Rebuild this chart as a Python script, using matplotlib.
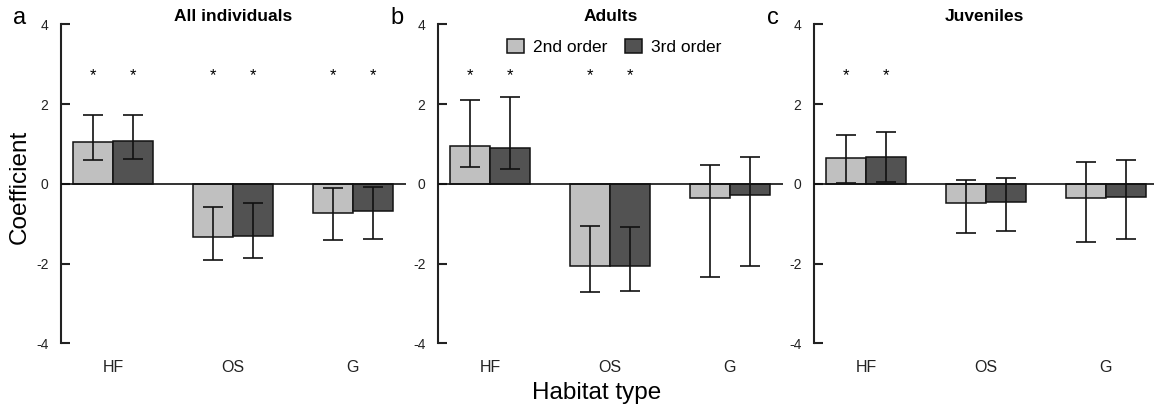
import matplotlib.pyplot as plt
import numpy as np

plt.rcParams['font.family'] = 'Liberation Sans'
plt.rcParams['axes.unicode_minus'] = False

habitats = ['HF', 'OS', 'G']
panels = ['a', 'b', 'c']
titles = ['All individuals', 'Adults', 'Juveniles']

# coefficient, lower CI, upper CI  (per panel, per habitat)
coef_2nd = [[1.06, -1.34, -0.73], [0.96, -2.05, -0.36], [0.64, -0.47, -0.36]]
low_2nd = [[0.60, -1.90, -1.40], [0.41, -2.71, -2.33], [0.03, -1.24, -1.45]]
up_2nd = [[1.73, -0.57, -0.11], [2.10, -1.05, 0.48], [1.22, 0.10, 0.55]]

coef_3rd = [[1.08, -1.32, -0.67], [0.89, -2.05, -0.28], [0.68, -0.46, -0.32]]
low_3rd = [[0.62, -1.86, -1.38], [0.37, -2.69, -2.06], [0.05, -1.19, -1.39]]
up_3rd = [[1.73, -0.48, -0.09], [2.18, -1.09, 0.66], [1.29, 0.15, 0.59]]

# significance stars per habitat (same for both orders)
signif = [[True, True, True], [True, True, False], [True, False, False]]

c_light = '#c0c0c0'
c_dark = '#525252'

W, H = 1154, 408
fig = plt.figure(figsize=(W / 100, H / 100), dpi=100)

ax_left_px = [61, 438, 814]
ax_right_px = [406, 783, 1154]
top_px, bot_px = 24.3, 343.3

x = np.arange(len(habitats))
bw = 1 / 3

axes = []
for i in range(3):
    l, r = ax_left_px[i], ax_right_px[i]
    ax = fig.add_axes([l / W, 1 - bot_px / H, (r - l) / W, (bot_px - top_px) / H])
    axes.append(ax)
    c2 = np.array(coef_2nd[i]); c3 = np.array(coef_3rd[i])
    e2 = [c2 - np.array(low_2nd[i]), np.array(up_2nd[i]) - c2]
    e3 = [c3 - np.array(low_3rd[i]), np.array(up_3rd[i]) - c3]
    ax.bar(x - bw / 2, c2, bw, color=c_light, edgecolor='#111111', linewidth=1.1,
           label='2nd order', zorder=2)
    ax.bar(x + bw / 2, c3, bw, color=c_dark, edgecolor='#111111', linewidth=1.1,
           label='3rd order', zorder=2)
    ax.errorbar(x - bw / 2, c2, yerr=e2, fmt='none', ecolor='#111111', elinewidth=1.2,
                capsize=7.5, capthick=1.2, zorder=3)
    ax.errorbar(x + bw / 2, c3, yerr=e3, fmt='none', ecolor='#111111', elinewidth=1.2,
                capsize=7.5, capthick=1.2, zorder=3)
    ax.axhline(0, color='#111111', linewidth=1.2, zorder=4)
    for j, s in enumerate(signif[i]):
        if s:
            for dx in (-bw / 2, bw / 2):
                ax.text(x[j] + dx, 2.72, '*', ha='center', va='center', fontsize=12)

    px_per_unit = 120
    ax.set_xlim(-52 / px_per_unit, (r - l - 52) / px_per_unit)
    ax.set_ylim(-4, 4)
    ax.set_yticks([-4, -2, 0, 2, 4])
    ax.set_xticks(x)
    ax.set_xticklabels(habitats, fontsize=11.5, color='#222222')
    for sp in ['top', 'right', 'bottom']:
        ax.spines[sp].set_visible(False)
    ax.spines['left'].set_linewidth(1.5)
    ax.spines['left'].set_color('#222222')
    ax.tick_params(axis='y', direction='in', length=6.5, width=1.5, labelsize=10, pad=9,
                   color='#222222', labelcolor='#222222')
    ax.tick_params(axis='x', length=0, pad=12)
    ax.set_title(titles[i], fontsize=12.5, fontweight='bold', pad=2)
    fig.text((l - 41) / W, 1 - 18 / H, panels[i], fontsize=17, ha='center', va='center')

fig.text(20 / W, 1 - 187 / H, 'Coefficient', fontsize=17.5, rotation=90,
         ha='center', va='center')
fig.text(597 / W, 1 - 393 / H, 'Habitat type', fontsize=17.5, ha='center', va='center')

axes[1].legend(loc='center', bbox_to_anchor=(0.51, 0.93), ncol=2, frameon=False,
               fontsize=12.5, handlelength=1.0, handleheight=0.9, handletextpad=0.5,
               columnspacing=1.0)

fig.savefig('out.png', dpi=100)
